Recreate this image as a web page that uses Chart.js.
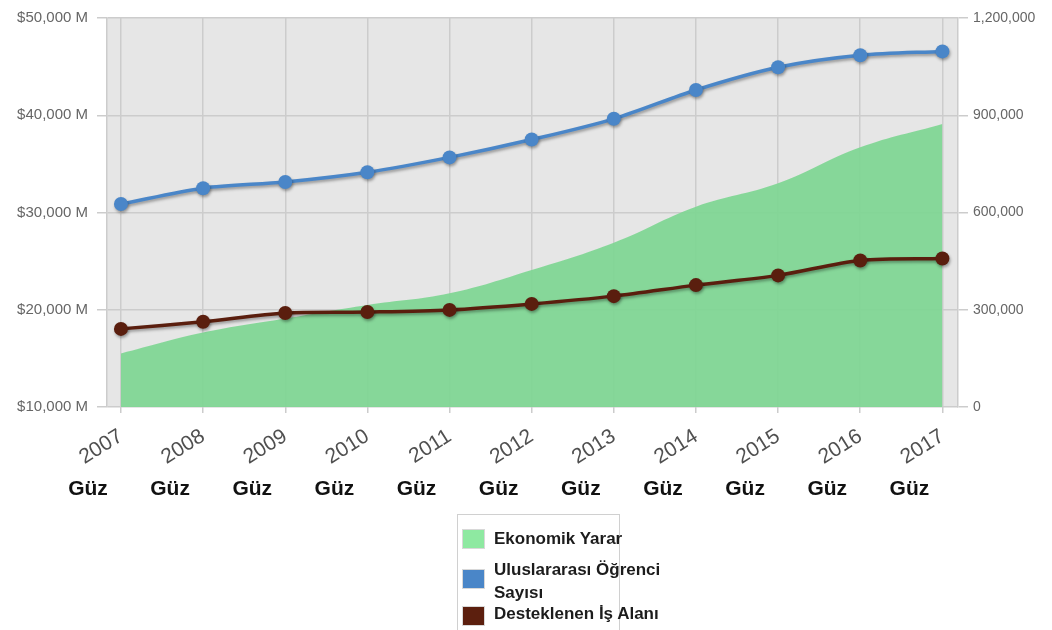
<!DOCTYPE html>
<html>
<head>
<meta charset="utf-8">
<script src="https://cdn.jsdelivr.net/npm/chart.js@4.4.0/dist/chart.umd.min.js"></script>
<style>
  body { margin: 0; background: #fff; }
  #wrap { position: relative; width: 1052px; height: 630px; overflow: hidden; }
  #legend { position: absolute; left: 457px; top: 514px; width: 161px; height: 130px;
            border: 1px solid #d0d0d0; font: bold 17px "Liberation Sans", Arial, sans-serif; color: #1c1c1c; }
  .sw { position: absolute; left: 4px; width: 23px; height: 20px; border: 1px solid #d8d8d8; box-sizing: border-box; }
  .txt { position: absolute; left: 36px; width: 190px; line-height: 23px; }
</style>
</head>
<body>
<div id="wrap">
  <canvas id="myChart" width="1052" height="630"></canvas>
  <div id="legend"></div>
</div>
<script>
// data
const years = [2007, 2008, 2009, 2010, 2011, 2012, 2013, 2014, 2015, 2016, 2017];
const seasons = ['Güz', 'Güz', 'Güz', 'Güz', 'Güz', 'Güz', 'Güz', 'Güz', 'Güz', 'Güz', 'Güz'];
const benefit = [15500, 17650, 19100, 20500, 21700, 24100, 26900, 30600, 33000, 36700, 39100];   // $ M
const students = [626000, 675000, 694000, 724000, 770000, 825000, 889000, 978000, 1048000, 1085000, 1097000];
const jobs = [241000, 263000, 290000, 293000, 299500, 318000, 342000, 376000, 406000, 452000, 458000];

const leftTicks = [10000, 20000, 30000, 40000, 50000];
const rightTicks = [0, 300000, 600000, 900000, 1200000];

const font = '"Liberation Sans", Arial, sans-serif';

// grey plot background
const plotBg = {
    id: 'plotBg',
    beforeDraw(chart) {
        const a = chart.chartArea, c = chart.ctx;
        c.save();
        c.fillStyle = '#e6e6e6';
        c.fillRect(a.left, a.top, a.right - a.left, a.bottom - a.top);
        c.restore();
    }
};

// soft shadow under the two lines
const lineShadow = {
    id: 'lineShadow',
    beforeDatasetDraw(chart, args) {
        if (chart.data.datasets[args.index].shadow) {
            const c = chart.ctx;
            c.save();
            c.shadowColor = 'rgba(0,0,0,0.35)';
            c.shadowBlur = 3;
            c.shadowOffsetX = 1;
            c.shadowOffsetY = 2;
        }
    },
    afterDatasetDraw(chart, args) {
        if (chart.data.datasets[args.index].shadow) chart.ctx.restore();
    }
};

const ctx = document.getElementById('myChart');
const cht = new Chart(ctx, {
    type: 'line',
    data: {
        labels: years,
        datasets: [{
            label: 'Ekonomik Yarar',
            data: benefit,
            yAxisID: 'y',
            fill: 'start',
            backgroundColor: 'rgba(126,214,146,0.92)',
            legendColor: '#8ee9a1',
            borderWidth: 0,
            pointRadius: 0,
            tension: 0.4,
            order: 3
        }, {
            label: 'Uluslararası Öğrenci Sayısı',
            data: students,
            yAxisID: 'y1',
            borderColor: '#4a86c8',
            backgroundColor: '#4a86c8',
            legendColor: '#4a86c8',
            borderWidth: 3.5,
            pointRadius: 7,
            pointBorderWidth: 0,
            tension: 0.3,
            shadow: true,
            order: 1
        }, {
            label: 'Desteklenen İş Alanı',
            data: jobs,
            yAxisID: 'y1',
            borderColor: '#5a1e0e',
            backgroundColor: '#5a1e0e',
            legendColor: '#5c1f0e',
            borderWidth: 3.5,
            pointRadius: 7,
            pointBorderWidth: 0,
            tension: 0.3,
            shadow: true,
            order: 2
        }]
    },
    options: {
        responsive: false,
        animation: false,
        layout: { padding: { top: 14, bottom: 121, left: 0, right: 0 } },
        plugins: { legend: { display: false }, tooltip: { enabled: false } },
        scales: {
            x: {
                type: 'linear', position: 'bottom', weight: 0,
                min: 2006.83, max: 2017.19,
                grid: { color: '#cccccc', lineWidth: 1.5, tickLength: 6 },
                border: { display: false },
                ticks: {
                    stepSize: 1, includeBounds: false, autoSkip: false,
                    minRotation: 32, maxRotation: 32, padding: 11,
                    color: '#505050', font: { size: 21, family: font },
                    callback: v => String(v)
                },
                afterFit: s => { s.height = 62; }
            },
            x2: {
                type: 'linear', position: 'bottom', weight: 1,
                min: 2006.83, max: 2017.19,
                grid: { display: false, drawTicks: false },
                border: { display: false },
                ticks: {
                    stepSize: 1, includeBounds: false, autoSkip: false,
                    minRotation: 0, maxRotation: 0, padding: 8, labelOffset: -33,
                    color: '#111', font: { size: 21, weight: 'bold', family: font },
                    callback: v => seasons[years.indexOf(v)]
                },
                afterFit: s => { s.height = 40; }
            },
            y: {
                position: 'left',
                min: leftTicks[0], max: leftTicks[leftTicks.length - 1],
                grid: { color: '#cccccc', lineWidth: 1.5, tickLength: 10 },
                border: { color: '#cccccc', width: 1.5 },
                ticks: {
                    stepSize: 10000, padding: 9, color: '#666', font: { size: 15, family: font },
                    callback: v => '$' + v.toLocaleString('en-US') + ' M'
                },
                afterFit: s => { s.width = 107; }
            },
            y1: {
                position: 'right',
                min: rightTicks[0], max: rightTicks[rightTicks.length - 1],
                grid: { drawOnChartArea: false, color: '#cccccc', lineWidth: 1.5, tickLength: 10 },
                border: { color: '#cccccc', width: 1.5 },
                ticks: {
                    stepSize: 300000, padding: 5, color: '#666', font: { size: 14, family: font },
                    callback: v => v.toLocaleString('en-US')
                },
                afterFit: s => { s.width = 94; }
            }
        }
    },
    plugins: [plotBg, lineShadow]
});

// html legend, built from the datasets
const legendTops = [[14, 12], [54, 43], [91, 87]];
const lg = document.getElementById('legend');
cht.data.datasets.forEach((ds, i) => {
    const sw = document.createElement('div');
    sw.className = 'sw';
    sw.style.top = legendTops[i][0] + 'px';
    sw.style.background = ds.legendColor;
    const tx = document.createElement('div');
    tx.className = 'txt';
    tx.style.top = legendTops[i][1] + 'px';
    tx.textContent = ds.label;
    lg.appendChild(sw);
    lg.appendChild(tx);
});
</script>
</body>
</html>
